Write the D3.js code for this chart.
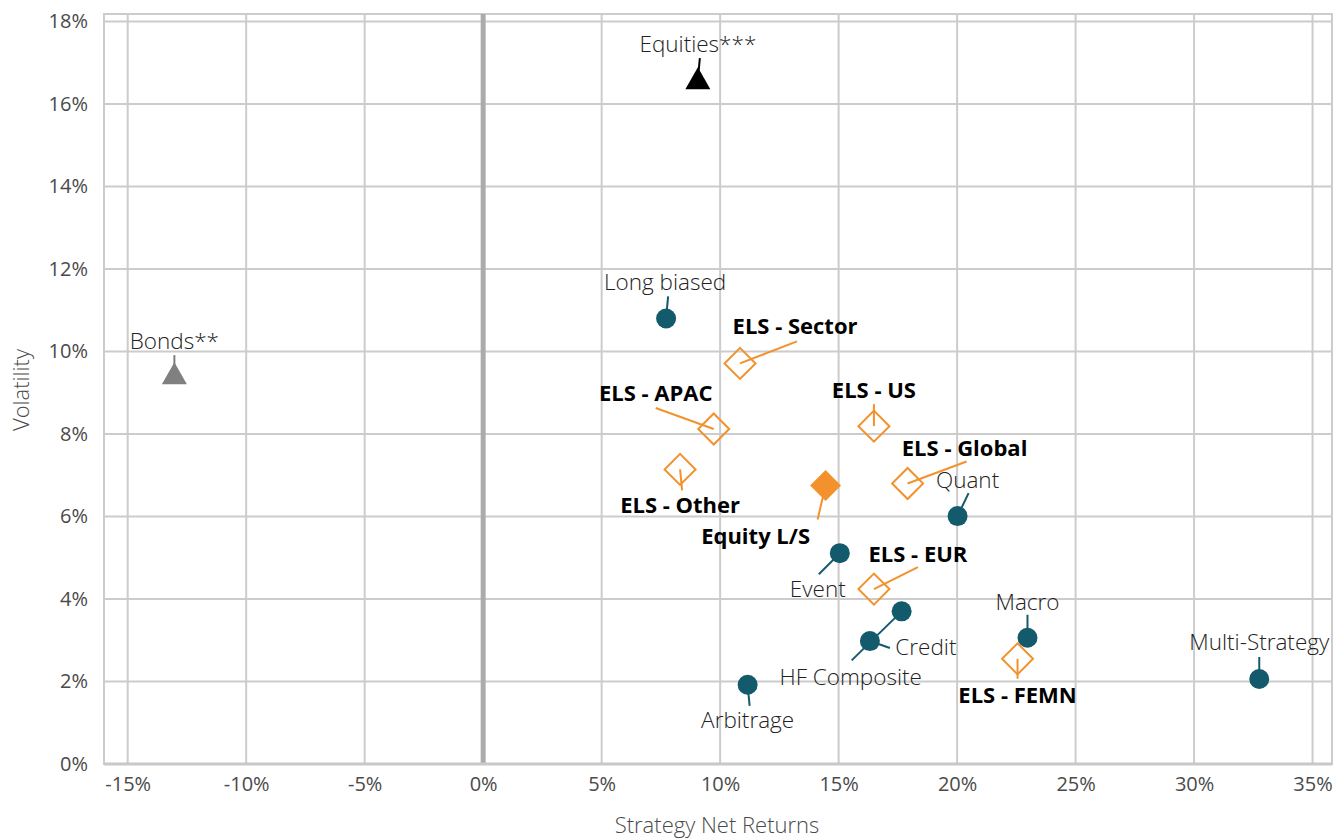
<!DOCTYPE html>
<html>
<head>
<meta charset="utf-8">
<script src="https://cdn.jsdelivr.net/npm/d3@7"></script>
<style>
  body { margin: 0; background: #fff; }
  text { font-family: "Open Sans", "Noto Sans", sans-serif; }
</style>
</head>
<body>
<div id="chart"></div>
<script>
// Strategy names, returns (x, %) and volatility (y, %)
var names = ["Equities***", "Bonds**", "Long biased", "ELS - Sector", "ELS - APAC", "ELS - US",
    "ELS - Other", "Equity L/S", "ELS - Global", "Quant", "Event", "ELS - EUR",
    "HF Composite", "Credit", "Macro", "ELS - FEMN", "Arbitrage", "Multi-Strategy"];
var returns = [9.06, -13.03, 7.72, 10.84, 9.73, 16.49, 8.31, 14.45, 17.91, 20.02, 15.05, 16.49,
    17.66, 16.32, 22.97, 22.55, 11.16, 32.75];
var volatility = [16.6, 9.45, 10.80, 9.71, 8.12, 8.19, 7.14, 6.75, 6.80, 6.01, 5.11, 4.24,
    3.70, 2.98, 3.06, 2.55, 1.92, 2.06];
var kinds = ["equity", "bond", "hf", "els", "els", "els", "els", "ls", "els", "hf", "hf", "els",
    "hf", "hf", "hf", "els", "hf", "hf"];

var xTicks = [-15, -10, -5, 0, 5, 10, 15, 20, 25, 30, 35];
var yTicks = [0, 2, 4, 6, 8, 10, 12, 14, 16, 18];

// label placement: leader end (lx, ly) and label anchor (tx, ty), px relative to the marker
var labelPos = [
    [2, -21, 0, -27], [0, -19, 0, -25], [2, -22, -1, -28], [57, -22, 55, -29],
    [-58, -21, -58, -28], [0, -22, 0, -28], [2, 21, 0, 44], [-8, 34, -70, 58],
    [59, -22, 57, -27], [11, -23, 10, -28], [-21, 21, -22, 44], [44, -22, 44, -27],
    [-50, 49, -51, 74], [20, 7, 56, 14], [0, -23, 0, -28], [0, 20, 0, 44],
    [2, 21, 0, 43], [0, -22, 0, -29]
];

var W = 1335, H = 838;
var pLeft = 104, pRight = 1332, pTop = 14, pBottom = 764;

var svg = d3.select("#chart").append("svg")
    .attr("width", W)
    .attr("height", H);

var x = d3.scaleLinear().domain([-16, 35.82]).range([pLeft, pRight]);
var y = d3.scaleLinear().domain([0, 18.18]).range([pBottom, pTop]);

var grid = "#cccccc";

// horizontal gridlines
svg.append("g").selectAll("line")
    .data(yTicks).enter().append("line")
    .attr("x1", pLeft).attr("x2", pRight)
    .attr("y1", function (d) { return y(d); })
    .attr("y2", function (d) { return y(d); })
    .attr("stroke", grid).attr("stroke-width", 2);

// vertical gridlines
svg.append("g").selectAll("line")
    .data(xTicks.filter(function (d) { return d != 0; })).enter().append("line")
    .attr("y1", pTop).attr("y2", pBottom)
    .attr("x1", function (d) { return x(d); })
    .attr("x2", function (d) { return x(d); })
    .attr("stroke", grid).attr("stroke-width", 2);

// plot frame
svg.append("rect")
    .attr("x", pLeft).attr("y", pTop)
    .attr("width", pRight - pLeft).attr("height", pBottom - pTop)
    .attr("fill", "none").attr("stroke", grid).attr("stroke-width", 2);

// zero line
svg.append("line")
    .attr("x1", x(0)).attr("x2", x(0))
    .attr("y1", pTop).attr("y2", pBottom)
    .attr("stroke", "#ababab").attr("stroke-width", 5);

// bottom axis line
svg.append("line")
    .attr("x1", pLeft).attr("x2", pRight)
    .attr("y1", pBottom).attr("y2", pBottom)
    .attr("stroke", "#c8c8c8").attr("stroke-width", 3);

// axes (ticks hidden, labels only)
var xAxis = d3.axisBottom(x).tickValues(xTicks).tickSize(0).tickPadding(13)
    .tickFormat(function (d) { return d + "%"; });
var yAxis = d3.axisLeft(y).tickValues(yTicks).tickSize(0).tickPadding(16)
    .tickFormat(function (d) { return d + "%"; });

svg.append("g").attr("transform", "translate(0," + pBottom + ")").call(xAxis)
    .call(function (g) { g.select(".domain").remove(); })
    .selectAll("text").attr("font-size", 20).attr("fill", "#4a4a4a")
    .attr("font-family", "'Open Sans', sans-serif");
svg.append("g").attr("transform", "translate(" + pLeft + ",0)").call(yAxis)
    .call(function (g) { g.select(".domain").remove(); })
    .selectAll("text").attr("font-size", 20).attr("fill", "#4a4a4a")
    .attr("font-family", "'Open Sans', sans-serif");

// axis titles
svg.append("text")
    .attr("x", 717).attr("y", 833)
    .attr("text-anchor", "middle")
    .attr("font-size", 22).attr("font-weight", 300).attr("fill", "#4a4a4a")
    .text("Strategy Net Returns");
svg.append("text")
    .attr("transform", "translate(29,390) rotate(-90)")
    .attr("text-anchor", "middle")
    .attr("font-size", 22).attr("font-weight", 300).attr("fill", "#4a4a4a")
    .text("Volatility");

var teal = "#135a6c", orange = "#f3922c";
var points = names.map(function (n, i) {
    return { name: n, ret: returns[i], vol: volatility[i], kind: kinds[i], pos: labelPos[i] };
});

function lineColor(d) {
    if (d.kind == "hf") return teal;
    if (d.kind == "els" || d.kind == "ls") return orange;
    if (d.kind == "bond") return "#7f7f7f";
    return "#000";
}

var pts = svg.append("g").selectAll("g")
    .data(points).enter().append("g")
    .attr("transform", function (d) { return "translate(" + x(d.ret) + "," + y(d.vol) + ")"; });

// leader lines
pts.append("line")
    .attr("x1", 0).attr("y1", 0)
    .attr("x2", function (d) { return d.pos[0]; })
    .attr("y2", function (d) { return d.pos[1]; })
    .attr("stroke", lineColor)
    .attr("stroke-width", 2);

var diamond = d3.symbol().type(d3.symbolSquare).size(480);

pts.each(function (d) {
    var g = d3.select(this);
    if (d.kind == "hf") {
        g.append("circle").attr("r", 10).attr("fill", teal);
    } else if (d.kind == "els") {
        g.append("path").attr("d", diamond()).attr("transform", "rotate(45)")
            .attr("fill", "none").attr("stroke", orange).attr("stroke-width", 2);
    } else if (d.kind == "ls") {
        g.append("path").attr("d", diamond()).attr("transform", "rotate(45)")
            .attr("fill", orange);
    } else {
        g.append("path").attr("d", "M0,-12L12.5,10L-12.5,10Z")
            .attr("fill", d.kind == "bond" ? "#808080" : "#000");
    }
});

// labels
pts.append("text")
    .attr("x", function (d) { return d.pos[2]; })
    .attr("y", function (d) { return d.pos[3]; })
    .attr("text-anchor", "middle")
    .attr("font-size", function (d) { return (d.kind == "els" || d.kind == "ls") ? 22 : 22.5; })
    .attr("font-weight", function (d) { return (d.kind == "els" || d.kind == "ls") ? 700 : 300; })
    .attr("fill", function (d) { return (d.kind == "els" || d.kind == "ls") ? "#000" : "#222"; })
    .text(function (d) { return d.name; });
</script>
</body>
</html>
